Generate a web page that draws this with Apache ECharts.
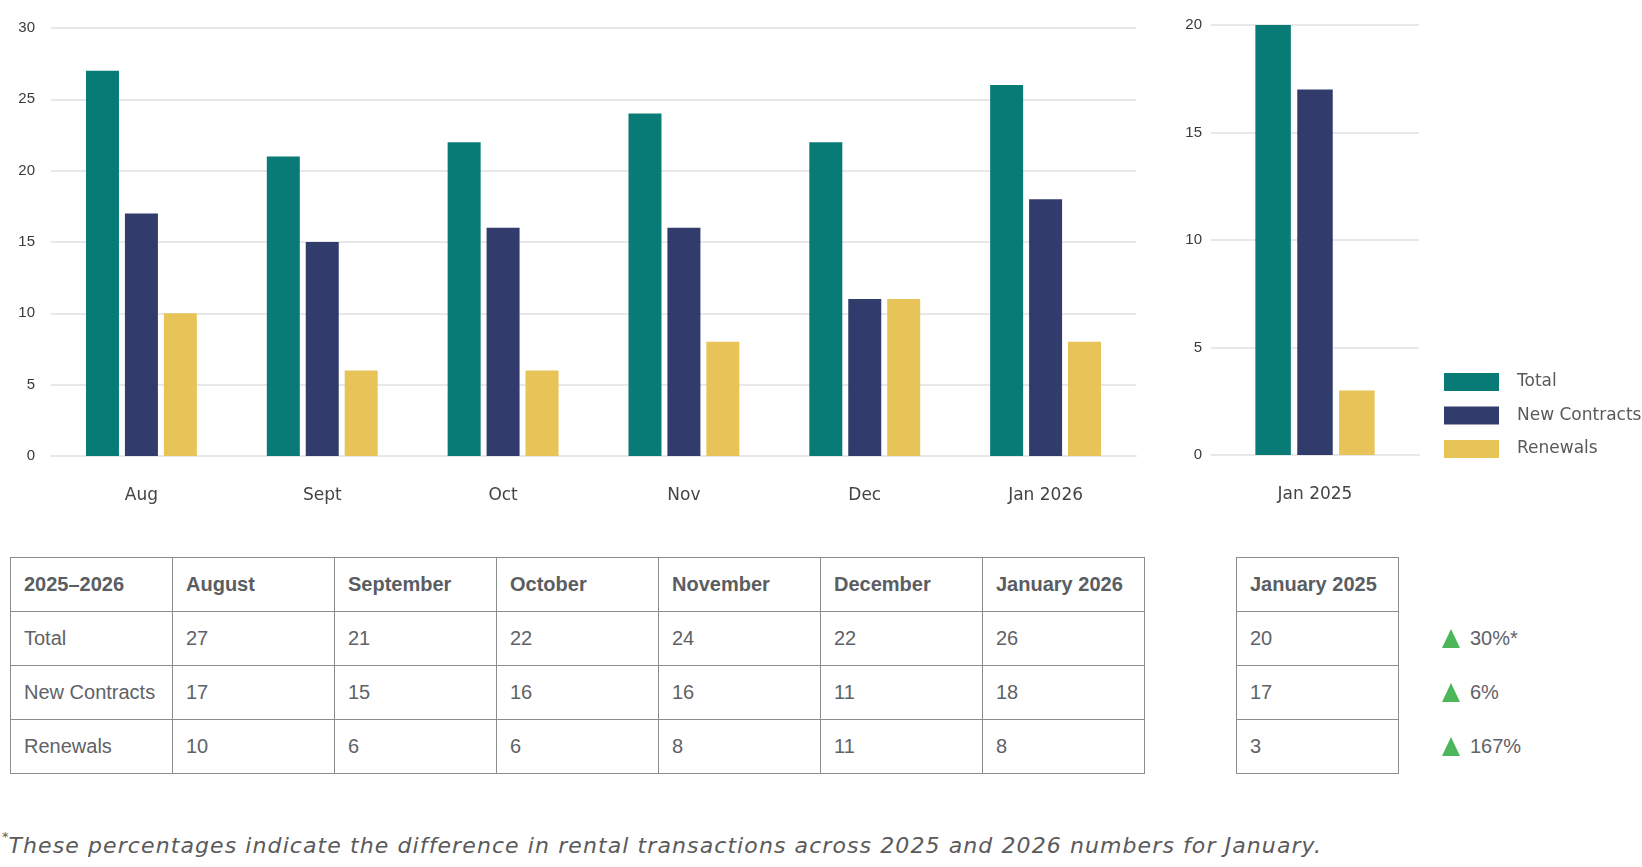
<!DOCTYPE html>
<html lang="en">
<head>
<meta charset="UTF-8">
<title>Rental transactions</title>
<script src="https://cdn.jsdelivr.net/npm/echarts@6/dist/echarts.min.js"></script>
<style>
    body {
        margin: 0;
        background: #fff;
    }

    #wrap {
        position: relative;
        width: 1642px;
        height: 867px;
        overflow: hidden;
    }

    #chart {
        position: absolute;
        left: 0;
        top: 0;
        width: 1642px;
        height: 520px;
    }

    table.data {
        position: absolute;
        top: 557px;
        border-collapse: collapse;
        table-layout: fixed;
        font-family: "Liberation Sans", Arial, sans-serif;
        font-size: 20px;
        color: #5f6267;
    }

    table.data td {
        border: 1.5px solid #8c8c8c;
        height: 53px;
        padding: 0 0 0 13px;
        text-align: left;
        white-space: nowrap;
    }

    table.data tr.head td {
        font-weight: bold;
        color: #5a5d62;
    }

    .changes {
        position: absolute;
        left: 1442px;
        top: 611px;
        font-family: "Liberation Sans", Arial, sans-serif;
        font-size: 20px;
        color: #5f6267;
    }

    .changes div {
        height: 54px;
        display: flex;
        align-items: center;
    }

    .tri {
        width: 0;
        height: 0;
        border-left: 9.5px solid transparent;
        border-right: 9.5px solid transparent;
        border-bottom: 19px solid #4cb75a;
        margin-right: 10px;
    }

    .note {
        position: absolute;
        left: 2px;
        top: 822px;
        font-family: "DejaVu Sans", sans-serif;
        font-style: italic;
        font-size: 22px;
        line-height: 30px;
        color: #5a5a5a;
        white-space: nowrap;
    }

    .note sup {
        font-size: 13px;
        font-style: normal;
        vertical-align: 12px;
    }
</style>
</head>
<body>
<div id="wrap">
    <div id="chart"></div>
    <table class="data" id="mainTable" style="left:10px;"></table>
    <table class="data" id="prevTable" style="left:1236px;"></table>
    <div class="changes" id="changes"></div>
    <div class="note"><sup>*</sup><span id="noteText">These percentages indicate the difference in rental transactions across 2025 and 2026 numbers for January.</span></div>
</div>

<script>
    // data
    const months = ['Aug', 'Sept', 'Oct', 'Nov', 'Dec', 'Jan 2026'];
    const monthNames = ['August', 'September', 'October', 'November', 'December', 'January 2026'];
    const total = [27, 21, 22, 24, 22, 26];
    const newContracts = [17, 15, 16, 16, 11, 18];
    const renewals = [10, 6, 6, 8, 11, 8];

    const prevMonths = ['Jan 2025'];
    const prevNames = ['January 2025'];
    const prevTotal = [20];
    const prevNew = [17];
    const prevRenewals = [3];

    const changeLabels = ['30%*', '6%', '167%'];
    const seriesNames = ['Total', 'New Contracts', 'Renewals'];
    const periodLabel = '2025\u20132026';
    const colors = ['#087b76', '#323c6c', '#e8c458'];

    const chart = echarts.init(document.getElementById('chart'));

    const gridLine = { color: '#e8e8e8', width: 2 };

    function xAxisFor(idx, cats) {
        return {
            type: 'category', gridIndex: idx, data: cats,
            axisLine: { show: true, lineStyle: gridLine },
            axisTick: { show: false },
            axisLabel: { margin: 31, fontSize: 17, color: '#444', fontFamily: 'DejaVu Sans' }
        };
    }

    function yAxisFor(idx, max, margin) {
        return {
            type: 'value', gridIndex: idx, min: 0, max: max, interval: 5,
            axisLine: { show: false },
            axisTick: { show: false },
            splitLine: { lineStyle: gridLine },
            axisLabel: { margin: margin, fontSize: 15, color: '#3a3a3a', fontFamily: 'Liberation Sans' }
        };
    }

    function barsFor(idx, lists, width) {
        return lists.map((vals, i) => ({
            type: 'bar', name: seriesNames[i],
            xAxisIndex: idx, yAxisIndex: idx,
            data: vals, barWidth: width, barGap: '18%',
            itemStyle: { color: colors[i] }
        }));
    }

    chart.setOption({
        animation: false,
        color: colors,
        grid: [
            { left: 51, top: 28, width: 1085, height: 428 },
            { left: 1211, top: 25, width: 208, height: 430 }
        ],
        xAxis: [xAxisFor(0, months), xAxisFor(1, prevMonths)],
        yAxis: [yAxisFor(0, 30, 16), yAxisFor(1, 20, 9)],
        legend: {
            orient: 'vertical', left: 1444, top: 373,
            itemWidth: 55, itemHeight: 18, itemGap: 15.5, padding: 0,
            icon: 'rect', data: seriesNames,
            textStyle: { fontSize: 17, color: '#5a5a5a', fontFamily: 'DejaVu Sans', padding: [2, 0, 0, 13] }
        },
        series: [
            ...barsFor(0, [total, newContracts, renewals], 33),
            ...barsFor(1, [prevTotal, prevNew, prevRenewals], 35.5)
        ]
    });

    // tables below the charts
    function buildTable(el, headers, rows) {
        let html = '<colgroup>' + headers.map(() => '<col style="width:162px">').join('') + '</colgroup>';
        html += '<tr class="head">' + headers.map(h => '<td>' + h + '</td>').join('') + '</tr>';
        rows.forEach(r => {
            html += '<tr>' + r.map(c => '<td>' + c + '</td>').join('') + '</tr>';
        });
        el.innerHTML = html;
        el.style.width = (162 * headers.length) + 'px';
    }

    const mainRows = [total, newContracts, renewals].map((vals, i) => [seriesNames[i], ...vals]);
    buildTable(document.getElementById('mainTable'), [periodLabel, ...monthNames], mainRows);

    const prevRows = [prevTotal, prevNew, prevRenewals].map(vals => vals.slice());
    buildTable(document.getElementById('prevTable'), prevNames, prevRows);

    document.getElementById('changes').innerHTML = changeLabels
        .map(c => '<div><span class="tri"></span><span>' + c + '</span></div>').join('');

    // stretch the footnote to the width it has in the picture
    const note = document.getElementById('noteText');
    const target = 1314;
    const w = note.getBoundingClientRect().width;
    note.style.letterSpacing = ((target - w) / note.textContent.length) + 'px';
</script>
</body>
</html>
